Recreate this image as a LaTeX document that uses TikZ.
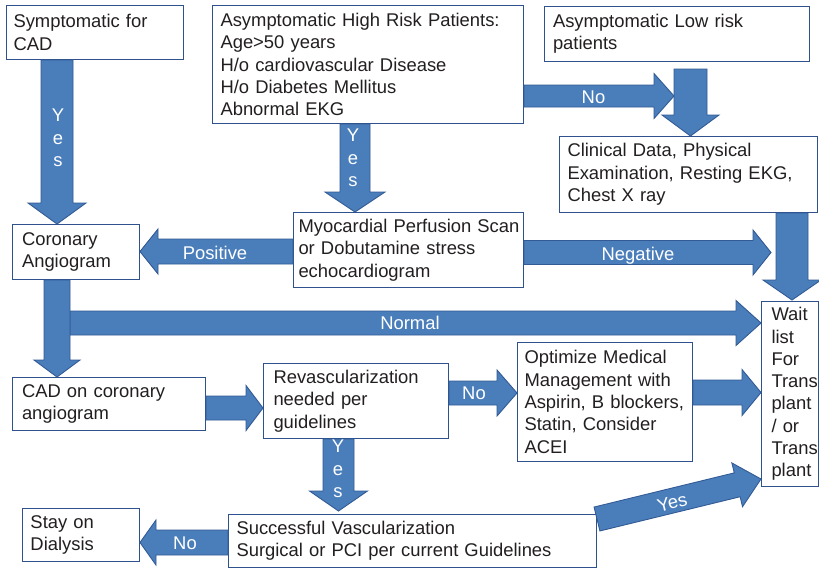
\documentclass[tikz,border=0pt]{standalone}
\usepackage{fontspec}
\setmainfont{Liberation Sans}
\usetikzlibrary{calc}
\definecolor{afill}{RGB}{74,126,187}
\definecolor{aline}{RGB}{50,90,148}
\definecolor{bline}{RGB}{47,82,143}
\definecolor{txt}{RGB}{35,31,32}
\tikzset{
  box/.style={draw=bline, line width=1pt, fill=white, text=txt, anchor=north west,
    align=left, inner ysep=0pt, font=\fontsize{18.4}{22.3}\selectfont},
  blockarrow/.style={fill=afill, draw=aline, line width=0.9pt, line join=miter},
  lbl/.style={text=white, inner sep=0pt, text height=13.2pt, text depth=0pt,
    font=\fontsize{18.4}{22.3}\selectfont},
  vlbl/.style={text=white, inner sep=0pt, align=center,
    font=\fontsize{18.4}{22.6}\selectfont}
}
% block arrow: name, tail, tip, half shaft, half head, head length
\newcommand\barrow[6]{%
  \coordinate (#1-t) at (#2);
  \coordinate (#1-h) at (#3);
  \coordinate (#1-c) at ($(#1-h)!#6!(#1-t)$);
  \draw[blockarrow] ($(#1-t)!#4!90:(#1-h)$) -- ($(#1-c)!#4!-90:(#1-t)$)
    -- ($(#1-c)!#5!-90:(#1-t)$) -- (#1-h) -- ($(#1-c)!#5!90:(#1-t)$)
    -- ($(#1-c)!#4!90:(#1-t)$) -- ($(#1-t)!#4!-90:(#1-h)$) -- cycle;
}
\begin{document}
\begin{tikzpicture}[x=1pt, y=-1pt]
\useasboundingbox (0,0) rectangle (819,568);
\fill[white] (0,0) rectangle (819,568);

% boxes
\node[box, inner xsep=7pt, minimum width=177pt, minimum height=54pt, text width=163pt] (sym) at (6,5) {Symptomatic for\\CAD};
\node[box, inner xsep=8pt, minimum width=311pt, minimum height=118pt, text width=295pt] (high) at (212,5) {Asymptomatic High Risk Patients:\\Age>50 years\\H/o cardiovascular Disease\\H/o Diabetes Mellitus\\Abnormal EKG};
\node[box, inner xsep=8.5pt, minimum width=265pt, minimum height=55pt, text width=248pt] (low) at (544,6) {Asymptomatic Low risk\\patients};
\node[box, inner xsep=8pt, minimum width=258pt, minimum height=76pt, text width=242pt] (clin) at (559,136) {Clinical Data, Physical\\Examination, Resting EKG,\\Chest X ray};
\node[box, inner xsep=5pt, minimum width=230pt, minimum height=75pt, text width=220pt] (myo) at (293,212) {\mbox{Myocardial Perfusion Scan}\\or Dobutamine stress\\echocardiogram};
\node[box, inner xsep=9.5pt, minimum width=127pt, minimum height=55pt, text width=108pt] (cor) at (12,224) {Coronary\\Angiogram};
\node[box, inner xsep=10pt, minimum width=57pt, minimum height=185pt, text width=37pt] (wait) at (761,301) {Wait\\list\\For\\Trans\\plant\\/ or\\Trans\\plant};
\node[box, inner xsep=9.5pt, minimum width=193pt, minimum height=53pt, text width=174pt] (cad) at (12,377) {CAD on coronary\\angiogram};
\node[box, inner xsep=10pt, minimum width=185pt, minimum height=75pt, text width=165pt] (rev) at (263,363) {Revascularization\\needed per\\guidelines};
\node[box, inner xsep=7pt, minimum width=175pt, minimum height=119pt, text width=161pt] (opt) at (517,342) {Optimize Medical\\Management with\\Aspirin, B blockers,\\Statin, Consider\\ACEI};
\node[box, inner xsep=8pt, minimum width=117pt, minimum height=53pt, text width=101pt] (stay) at (22,508) {Stay on\\Dialysis};
\node[box, inner xsep=8pt, minimum width=368pt, minimum height=53pt, text width=352pt] (succ) at (228,514) {Successful Vascularization\\Surgical or PCI per current Guidelines};

% arrows
\barrow{a1}{$(sym.south west)+(51,0)$}{a1-t |- cor.north}{16pt}{29pt}{21pt}
\barrow{a2}{$(high.south west)+(143,0)$}{a2-t |- myo.north}{15pt}{30pt}{20pt}
\barrow{a3}{$(high.north east)+(0,91)$}{$(a3-t)+(150,0)$}{11pt}{22.5pt}{20pt}
\barrow{a4}{$(low.south west)+(146.5,7)$}{a4-t |- clin.north}{16.5pt}{28.5pt}{21pt}
\barrow{a5}{$(myo.north west)+(0,39.5)$}{a5-t -| cor.east}{12.5pt}{22.5pt}{18pt}
\barrow{a6}{$(myo.north east)+(0,40.5)$}{$(a6-t)+(247,0)$}{12pt}{22.5pt}{18pt}
\barrow{a7}{$(clin.south west)+(233,0)$}{$(a7-t |- wait.north)+(0,-1)$}{16pt}{29pt}{20pt}
\barrow{a9}{$(cor.south west)+(58,43)$}{a9-t -| wait.west}{12pt}{22.5pt}{25pt}
\barrow{a8}{$(cor.south west)+(45,0)$}{a8-t |- cad.north}{13pt}{23pt}{17pt}
\barrow{a10}{$(cad.north east)+(0,31)$}{a10-t -| rev.west}{12pt}{22.5pt}{17pt}
\barrow{a11}{$(rev.north east)+(0,30)$}{a11-t -| opt.west}{12pt}{23pt}{20pt}
\barrow{a12}{$(opt.north east)+(0,50.5)$}{a12-t -| wait.west}{12.5pt}{23pt}{19pt}
\barrow{a13}{$(rev.south west)+(75.5,0)$}{$(a13-t |- succ.north)+(0,-3)$}{15.5pt}{29pt}{20pt}
\barrow{a14}{$(succ.north west)+(0,28.5)$}{a14-t -| stay.east}{12.5pt}{22.5pt}{16pt}
\barrow{a15}{$(succ.north east)+(0,5)$}{$(wait.south west)+(0,-8)$}{12.3pt}{22.5pt}{24.5pt}

% labels
\node[vlbl] (l1) at (58,138) {Y\\e\\s};
\node[vlbl] (l2) at (353,158) {Y\\e\\s};
\node[lbl] (l3) at (593.5,96.5) {No};
\node[lbl] (l5) at (215,253) {Positive};
\node[lbl] (l6) at (638,253.5) {Negative};
\node[lbl] (l9) at (410,323) {Normal};
\node[lbl] (l11) at (474,393) {No};
\node[vlbl] (l13) at (338,469) {Y\\e\\s};
\node[lbl] (l14) at (185,543) {No};
\node[lbl, rotate=14] (l15) at (672,502) {Yes};
\end{tikzpicture}
\end{document}
